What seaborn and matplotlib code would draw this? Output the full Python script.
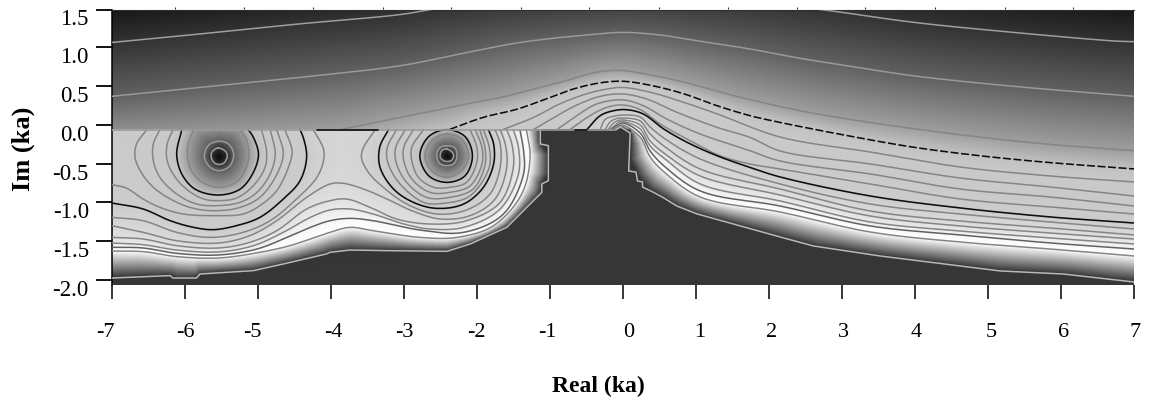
import numpy as np
import matplotlib
matplotlib.use("Agg")
import matplotlib.pyplot as plt
import matplotlib.tri as mtri
from matplotlib.colors import LinearSegmentedColormap
from matplotlib.transforms import ScaledTranslation
import seaborn as sns

# ---- axis content ----
x_ticks = [-7, -6, -5, -4, -3, -2, -1, 0, 1, 2, 3, 4, 5, 6, 7]
y_ticks = [1.5, 1.0, 0.5, 0.0, -0.5, -1.0, -1.5, -2.0]
y_labels = ["1.5", "1.0", "0.5", "0.0", "-0.5", "-1.0", "-1.5", "-2.0"]
top_ticks = [-6.13, -5.19, -4.25, -3.29, -2.36, -1.40, -0.47, 0.50, 1.44, 2.39, 3.32, 4.28, 5.24, 6.17]

# ---- contour levels: (real, imag) in ka ----
# upper half-plane and the lower right
U0a = [(-7, 1.06), (-5.79, 1.17), (-4.42, 1.30), (-3.05, 1.42), (-2.6, 1.49)]
U0b = [(-2.6, 1.49), (-1.5, 1.6), (0, 1.65), (1.5, 1.6), (2.66, 1.49), (3.98, 1.32), (5.12, 1.21), (6.72, 1.08), (7, 1.07)]
U1 = [(-7, .366), (-5.79, .48), (-4.42, .61), (-3.05, .76), (-2.14, .93), (-1.54, 1.04), (-1, 1.11), (-.49, 1.156),
      (-.015, 1.19), (.51, 1.156), (.92, 1.096), (1.74, .976), (2.43, .855), (3.07, .76), (3.98, .63), (5.35, .495), (7, .366)]
U2 = [(-3.85, -.06), (-3.05, .095), (-2.59, .18), (-2.14, .27), (-1.68, .35), (-1.22, .46), (-.77, .57), (-.4, .67),
      (-.04, .70), (.33, .65), (.83, .55), (1.52, .375), (2.43, .18), (3.52, .01), (4.89, -.16), (5.81, -.25), (7, -.335)]
U3 = [(-2.37, -.06), (-1.91, .095), (-1.45, .2), (-1, .35), (-.68, .46), (-.31, .54), (0, .56), (.37, .51), (.83, .40),
      (1.29, .245), (1.74, .117), (2.15, .03), (3.07, -.14), (3.98, -.29), (4.89, -.40), (5.81, -.485), (7, -.57)]
U4 = [(-1.635, -.06), (-1.22, .095), (-.86, .27), (-.49, .40), (-.22, .46), (0, .48), (.37, .42), (.83, .29), (1.29, .14),
      (2.155, -.159), (3.39, -.352), (4.62, -.545), (5.855, -.661), (7, -.738)]
U5 = [(-1.22, -.06), (-.9, .117), (-.63, .254), (-.31, .366), (0, .396), (.33, .33), (.74, .16), (1.29, -.034), (1.74, -.163),
      (2.155, -.339), (3.39, -.506), (4.62, -.687), (5.855, -.803), (7, -.919)]
U6 = [(-.9, -.06), (-.63, .117), (-.36, .267), (0, .32), (.28, .245), (.6, .074), (1.06, -.12), (1.74, -.335),
      (2.155, -.468), (3.39, -.635), (4.62, -.829), (5.855, -.932), (7, -1.048)]
U7 = [(-.72, -.06), (-.45, .117), (-.22, .224), (0, .254), (.24, .194), (.51, .01), (.92, -.206), (1.33, -.40), (1.74, -.506),
      (2.155, -.571), (3.39, -.764), (4.62, -.957), (5.855, -1.06), (7, -1.151)]
U8 = [(-.49, -.06), (-.31, .117), (-.13, .18), (.05, .194), (.28, .138), (.56, -.055), (.88, -.227), (1.29, -.40), (1.74, -.55),
      (2.155, -.674), (3.39, -.919), (4.62, -1.073), (5.855, -1.189), (7, -1.267)]
U9 = [(-.31, -.06), (-.24, .07), (-.12, .11), (0, .125), (.237, .099), (.374, -.03), (.58, -.184), (1.06, -.442),
      (2.155, -.764), (3.39, -1.022), (4.62, -1.151), (5.855, -1.254), (7, -1.344)]
U10 = [(-.24, -.06), (-.17, .04), (-.08, .08), (0, .086), (.237, .048), (.374, -.12), (.58, -.287), (1.06, -.571),
       (2.155, -.829), (3.39, -1.112), (4.62, -1.241), (5.855, -1.331), (7, -1.421)]
U11 = [(-.2, -.06), (-.13, .02), (-.06, .055), (0, .061), (.237, -.004), (.374, -.21), (.58, -.378), (1.06, -.661),
       (2.155, -.906), (3.39, -1.177), (4.62, -1.305), (5.855, -1.396), (7, -1.473)]
U12 = [(-.175, -.06), (-.1, 0), (-.05, .035), (0, .041), (.237, -.055), (.374, -.274), (.58, -.442), (1.06, -.764),
       (2.155, -.983), (3.39, -1.254), (4.62, -1.37), (5.855, -1.46), (7, -1.537)]
U13 = [(-.15, -.06), (-.08, -.01), (0, .022), (.237, -.107), (.374, -.339), (.58, -.545), (1.06, -.854),
       (2.155, -1.048), (3.39, -1.305), (4.62, -1.421), (5.855, -1.524), (7, -1.602)]
U14 = [(-.12, -.06), (-.06, -.02), (0, -.004), (.237, -.159), (.374, -.416), (.58, -.622), (1.06, -.932),
       (2.155, -1.125), (3.39, -1.383), (4.62, -1.512), (5.855, -1.602), (7, -1.692)]
U15 = [(-.09, -.06), (-.03, -.03), (.10, -.107), (.08, -.597), (.18, -.61), (.2, -.725), (.27, -.738), (.27, -.803), (.41, -.867),
       (.54, -.932), (.74, -1.048), (1.02, -1.151), (2.155, -1.447), (2.61, -1.563), (3.525, -1.692), (5.17, -1.885),
       (6.03, -1.924), (7, -2.027)]

# lower half-plane, around the zero near -5.5
A0 = [(-5.54, -.30), (-5.43, -.356), (-5.42, -.42), (-5.47, -.498), (-5.57, -.506), (-5.63, -.442), (-5.63, -.356), (-5.54, -.30)]
A1 = [(-5.54, -.214), (-5.40, -.249), (-5.33, -.378), (-5.38, -.528), (-5.52, -.592), (-5.65, -.549), (-5.73, -.42), (-5.68, -.27), (-5.54, -.214)]
A2 = [(-5.88, -.064), (-5.96, -.292), (-5.93, -.549), (-5.79, -.721), (-5.54, -.807), (-5.27, -.721), (-5.13, -.464), (-5.15, -.206), (-5.24, -.064)]
A3 = [(-6.04, -.064), (-6.11, -.378), (-6.04, -.635), (-5.86, -.829), (-5.54, -.906), (-5.24, -.829), (-5.06, -.614), (-4.99, -.378), (-5.06, -.163), (-5.13, -.064)]
A4 = [(-6.16, -.064), (-6.24, -.249), (-6.24, -.464), (-6.13, -.678), (-5.95, -.85), (-5.74, -.958), (-5.54, -.979), (-5.29, -.945), (-5.06, -.786), (-4.90, -.549), (-4.88, -.335), (-4.95, -.064)]
A5 = [(-6.34, -.064), (-6.43, -.249), (-6.43, -.464), (-6.34, -.678), (-6.11, -.893), (-5.84, -1.022), (-5.54, -1.043), (-5.24, -1.0), (-5.01, -.872), (-4.83, -.635), (-4.76, -.378), (-4.83, -.064)]
A6 = [(-6.52, -.064), (-6.66, -.249), (-6.68, -.42), (-6.61, -.592), (-6.43, -.807), (-6.11, -1.0), (-5.84, -1.086), (-5.54, -1.108), (-5.24, -1.065), (-4.97, -.936), (-4.76, -.678), (-4.65, -.378), (-4.74, -.064)]
A7 = [(-7, -.773), (-6.8, -.816), (-6.57, -.958), (-6.34, -1.065), (-6.02, -1.151), (-5.54, -1.172), (-5.2, -1.151), (-4.97, -1.043), (-4.74, -.85), (-4.58, -.549), (-4.53, -.335), (-4.63, -.064)]
A8 = [(-7, -1.009), (-6.57, -1.086), (-6.2, -1.237), (-5.88, -1.323), (-5.61, -1.353), (-5.29, -1.301), (-4.97, -1.194), (-4.65, -.958), (-4.42, -.721), (-4.33, -.42), (-4.37, -.184), (-4.42, -.064)]
A9 = [(-7, -1.194), (-6.57, -1.237), (-6.11, -1.387), (-5.65, -1.452), (-5.2, -1.387), (-4.83, -1.237), (-4.47, -.958), (-4.19, -.678), (-4.1, -.464), (-4.1, -.313), (-4.24, -.064)]

# lower half-plane, around the zero near -2.4
B0 = [(-2.41, -.313), (-2.32, -.378), (-2.34, -.455), (-2.43, -.472), (-2.5, -.42), (-2.48, -.335), (-2.41, -.313)]
B1 = [(-2.41, -.27), (-2.3, -.30), (-2.27, -.399), (-2.31, -.498), (-2.41, -.528), (-2.51, -.498), (-2.55, -.399), (-2.51, -.30), (-2.41, -.27)]
B2 = [(-2.41, -.12), (-2.21, -.184), (-2.11, -.399), (-2.21, -.592), (-2.41, -.678), (-2.62, -.592), (-2.71, -.399), (-2.62, -.206), (-2.41, -.12)]
B3 = [(-2.41, -.064), (-2.16, -.154), (-2.06, -.399), (-2.16, -.657), (-2.41, -.743), (-2.66, -.657), (-2.78, -.399), (-2.66, -.154), (-2.41, -.064)]
B4 = [(-2.73, -.064), (-2.89, -.292), (-2.89, -.464), (-2.8, -.678), (-2.59, -.807), (-2.37, -.807), (-2.14, -.743), (-2.0, -.485), (-2.0, -.292), (-2.09, -.064)]
B5 = [(-2.87, -.064), (-3.0, -.292), (-3.0, -.464), (-2.89, -.70), (-2.64, -.872), (-2.37, -.872), (-2.09, -.786), (-1.93, -.506), (-1.93, -.292), (-2.02, -.064)]
B6 = [(-2.98, -.064), (-3.11, -.292), (-3.11, -.464), (-2.98, -.721), (-2.69, -.936), (-2.37, -.936), (-2.05, -.829), (-1.89, -.528), (-1.89, -.292), (-1.96, -.064)]
B7 = [(-3.1, -.064), (-3.225, -.292), (-3.225, -.464), (-3.07, -.743), (-2.73, -1.0), (-2.46, -1.013), (-2.09, -.915), (-1.83, -.549), (-1.83, -.292), (-1.91, -.064)]
B8 = [(-3.21, -.064), (-3.33, -.292), (-3.325, -.549), (-3.14, -.829), (-2.87, -1.0), (-2.55, -1.078), (-2.18, -1.022), (-1.91, -.807), (-1.77, -.506), (-1.77, -.249), (-1.84, -.064)]
B9 = [(-3.39, -.064), (-3.55, -.292), (-3.58, -.42), (-3.485, -.614), (-3.28, -.807), (-2.96, -1.022), (-2.55, -1.151), (-2.14, -1.099), (-1.82, -.893), (-1.68, -.549), (-1.68, -.249), (-1.75, -.064)]

# lower half-plane, lines that run across both zeros
C10 = [(-7, -1.301), (-6.57, -1.387), (-6.11, -1.495), (-5.54, -1.525), (-5.11, -1.43), (-4.74, -1.237), (-4.33, -.936), (-4.01, -.764), (-3.83, -.755), (-3.55, -.829), (-3.23, -.958), (-2.87, -1.116), (-2.5, -1.215), (-2.09, -1.172), (-1.75, -.958), (-1.59, -.549), (-1.61, -.249), (-1.68, -.064)]
C11 = [(-7, -1.452), (-6.57, -1.473), (-6.11, -1.559), (-5.54, -1.589), (-5.11, -1.516), (-4.74, -1.366), (-4.33, -1.086), (-4.01, -.979), (-3.78, -.958), (-3.46, -1.065), (-3.1, -1.215), (-2.64, -1.28), (-2.14, -1.237), (-1.68, -1.0), (-1.5, -.549), (-1.52, -.249), (-1.59, -.064)]
C12 = [(-7, -1.525), (-6.57, -1.546), (-6.11, -1.615), (-5.54, -1.64), (-5.06, -1.559), (-4.65, -1.387), (-4.28, -1.194), (-4.01, -1.099), (-3.74, -1.086), (-3.42, -1.151), (-3.0, -1.28), (-2.64, -1.344), (-2.18, -1.323), (-1.68, -1.086), (-1.43, -.635), (-1.43, -.292), (-1.5, -.064)]
C13 = [(-7, -1.58), (-6.57, -1.589), (-6.11, -1.658), (-5.54, -1.679), (-5.01, -1.602), (-4.6, -1.452), (-4.28, -1.323), (-4.01, -1.237), (-3.74, -1.207), (-3.42, -1.237), (-2.78, -1.357), (-2.18, -1.387), (-1.635, -1.151), (-1.36, -.635), (-1.36, -.335), (-1.41, -.064)]
C14 = [(-7, -1.628), (-6.57, -1.636), (-6.11, -1.70), (-5.54, -1.718), (-4.97, -1.645), (-4.56, -1.559), (-4.28, -1.473), (-4.01, -1.387), (-3.74, -1.323), (-3.42, -1.366), (-2.78, -1.452), (-2.27, -1.452), (-1.77, -1.301), (-1.385, -.893), (-1.27, -.42), (-1.32, -.064)]
C15 = [(-7, -1.976), (-6.2, -1.945), (-6.16, -1.976), (-5.84, -1.976), (-5.79, -1.924), (-5.06, -1.881), (-4.65, -1.795), (-4.06, -1.666), (-4.01, -1.645), (-3.74, -1.615), (-3.23, -1.623), (-2.41, -1.632), (-2.09, -1.537), (-1.59, -1.323), (-1.225, -.979), (-1.11, -.872), (-1.11, -.764), (-1.02, -.721), (-1.02, -.27), (-1.13, -.249), (-1.13, -.064)]

# field values that are not on a contour: (real, imag, level)
cut_x = [-7, -5.5, -3.85, -2.37, -1.635, -1.22, -.9, -.72, -.49, -.31, -.24, -.2, -.175, -.15, -.12, -.09]
cut_level = [1.72, 1.85, 2, 3, 4, 5, 6, 7, 8, 9, 10, 11, 12, 13, 14, 15]
top_samples = [(-7, 1.49, -.65), (-3, 1.49, -.1), (7, 1.49, -.63)]
lower_samples = [(-7, -.064, 6.6), (-7, -.45, 6.8), (-3.85, -.064, 9.5), (-3.85, -.45, 9.6),
                 (-5.54, -.41, -1), (-2.41, -.40, -1), (-5.54, -.064, 1.75)]

# black pieces lying on the cut
cut_black_a = [(-4.19, -.064), (-3.35, -.064)]
cut_black_b = [(-.65, -.064), (-.49, -.064)]
cut_grey = [(-7, -.064), (-.09, -.064)]

upper_curves = [(0, U0a), (0, U0b), (1, U1), (2, U2), (3, U3), (4, U4), (5, U5), (6, U6), (7, U7), (8, U8), (9, U9),
                (10, U10), (11, U11), (12, U12), (13, U13), (14, U14), (15, U15)]
lower_curves = [(0, A0), (1, A1), (2, A2), (3, A3), (4, A4), (5, A5), (6, A6), (7, A7), (8, A8), (9, A9),
                (0, B0), (1, B1), (2, B2), (3, B3), (4, B4), (5, B5), (6, B6), (7, B7), (8, B8), (9, B9),
                (10, C10), (11, C11), (12, C12), (13, C13), (14, C14), (15, C15)]

# ---- style ----
sns.set_theme(style="white")
plt.rcParams["font.family"] = ["Liberation Serif", "DejaVu Serif"]
plt.rcParams["text.color"] = "black"
plt.rcParams["axes.labelcolor"] = "black"
plt.rcParams["xtick.labelcolor"] = "black"
plt.rcParams["ytick.labelcolor"] = "black"
plt.rcParams["xtick.color"] = "black"
plt.rcParams["ytick.color"] = "black"

level_knots = [-1, 0, 1, 2, 3, 4, 8, 9, 10, 11, 12, 13, 14, 15]
grey_knots = [.03, .20, .38, .62, .76, .79, .80, .83, .85, .88, .92, .97, 1.0, .21]
cmap = LinearSegmentedColormap.from_list(
    "field", [((l + 1) / 16, (g, g, g)) for l, g in zip(level_knots, grey_knots)], N=1024)
cmap.set_bad(alpha=0)


def smooth(curve, n=12):
    """Centripetal Catmull-Rom rendering of a hand-read contour."""
    c = np.asarray(curve, float)
    closed = np.allclose(c[0], c[-1])
    if closed:
        p = np.vstack([c[-2], c, c[1]])
    else:
        p = np.vstack([2 * c[0] - c[1], c, 2 * c[-1] - c[-2]])
    out = []
    for i in range(1, len(p) - 2):
        p0, p1, p2, p3 = p[i - 1], p[i], p[i + 1], p[i + 2]
        t0 = 0.0
        t1 = t0 + max(np.hypot(*(p1 - p0)), 1e-6) ** .5
        t2 = t1 + max(np.hypot(*(p2 - p1)), 1e-6) ** .5
        t3 = t2 + max(np.hypot(*(p3 - p2)), 1e-6) ** .5
        for t in np.linspace(t1, t2, n, endpoint=False):
            a1 = (t1 - t) / (t1 - t0) * p0 + (t - t0) / (t1 - t0) * p1
            a2 = (t2 - t) / (t2 - t1) * p1 + (t - t1) / (t2 - t1) * p2
            a3 = (t3 - t) / (t3 - t2) * p2 + (t - t2) / (t3 - t2) * p3
            b1 = (t2 - t) / (t2 - t0) * a1 + (t - t0) / (t2 - t0) * a2
            b2 = (t3 - t) / (t3 - t1) * a2 + (t - t1) / (t3 - t1) * a3
            out.append((t2 - t) / (t2 - t1) * b1 + (t - t1) / (t2 - t1) * b2)
    out.append(c[-1])
    return np.array(out)


def shape(level, curve):
    # the outermost contour is stair-stepped in the picture, the rest are smooth
    return np.asarray(curve, float) if level == 15 else smooth(curve)


def refine(c, step=0.04):
    s = np.r_[0, np.cumsum(np.hypot(*np.diff(c, axis=0).T))]
    t = np.linspace(0, s[-1], max(2, int(s[-1] / step)))
    return np.interp(t, s, c[:, 0]), np.interp(t, s, c[:, 1])


def mesh(curves, samples):
    xs, ys, zs = [], [], []
    for lev, c in curves:
        a, b = refine(shape(lev, c))
        xs.append(a); ys.append(b); zs.append(np.full(a.size, float(lev)))
    s = np.asarray(samples, float)
    xs.append(s[:, 0]); ys.append(s[:, 1]); zs.append(s[:, 2])
    x, y, z = map(np.concatenate, (xs, ys, zs))
    _, keep = np.unique(np.round(np.c_[x, y], 3), axis=0, return_index=True)
    return x[keep], y[keep], z[keep]


fig = plt.figure(figsize=(11.51, 4.02), dpi=100)
W, H = 1151, 402
ax = fig.add_axes([111.7 / W, 1 - 285.7 / H, (1134 - 111.7) / W, (285.7 - 10.5) / H])
ax.set_facecolor((.21, .21, .21))
XLIM, YLIM = (-7, 7), (-2.062, 1.485)
gx = np.linspace(*XLIM, 1022)
gy = np.linspace(*YLIM, 275)


def paint(x, y, z, triangles):
    """Shade the contour mesh linearly on a pixel grid, level by level."""
    field = np.full((gy.size, gx.size), np.nan)
    for a, b, c in triangles:
        xa, xb, xc, ya, yb, yc = x[a], x[b], x[c], y[a], y[b], y[c]
        det = (yb - yc) * (xa - xc) + (xc - xb) * (ya - yc)
        if abs(det) < 1e-9:
            continue
        i0, i1 = np.searchsorted(gx, [min(xa, xb, xc), max(xa, xb, xc)])
        j0, j1 = np.searchsorted(gy, [min(ya, yb, yc), max(ya, yb, yc)])
        if i0 >= i1 or j0 >= j1:
            continue
        px, py = np.meshgrid(gx[i0:i1], gy[j0:j1])
        l1 = ((yb - yc) * (px - xc) + (xc - xb) * (py - yc)) / det
        l2 = ((yc - ya) * (px - xc) + (xa - xc) * (py - yc)) / det
        l3 = 1 - l1 - l2
        inside = (l1 >= -1e-9) & (l2 >= -1e-9) & (l3 >= -1e-9)
        sub = field[j0:j1, i0:i1]
        sub[inside] = (l1 * z[a] + l2 * z[b] + l3 * z[c])[inside]
    ax.imshow(np.ma.masked_invalid(field), origin="lower", extent=(*XLIM, *YLIM), aspect="auto", cmap=cmap,
              vmin=-1, vmax=15, interpolation="nearest", zorder=1)


# upper half and lower right
cut_samples = []
for i in range(len(cut_x) - 1):
    for f in np.linspace(0, 1, 8 if cut_x[i + 1] - cut_x[i] > .3 else 3, endpoint=False):
        cut_samples.append((cut_x[i] + f * (cut_x[i + 1] - cut_x[i]), -.06,
                            cut_level[i] + f * (cut_level[i + 1] - cut_level[i])))
mx, my, mz = mesh(upper_curves, top_samples + cut_samples)
tri_main = mtri.Triangulation(mx, my)
cx = mx[tri_main.triangles].mean(axis=1)
cy = my[tri_main.triangles].mean(axis=1)
paint(mx, my, mz, tri_main.triangles[~((cy < -.06) & (cx < .09))])

# lower left
lx, ly, lz = mesh(lower_curves, lower_samples)
paint(lx, ly, lz, mtri.Triangulation(lx, ly).triangles)


def draw(c, grey, lw=1.0, **kw):
    sns.lineplot(x=c[:, 0], y=c[:, 1], sort=False, estimator=None, errorbar=None, ax=ax,
                 color=(grey, grey, grey), lw=lw, legend=False, zorder=3, **kw)


line_grey = {3: .05, 8: .05, 13: .38, 15: .72, 0: .62, 1: .6}
for lev, c in upper_curves + lower_curves:
    g = line_grey.get(lev, .52)
    pts = shape(lev, c)
    if c is U3:
        draw(pts, g, lw=1.15, linestyle=(0, (5, 1.6)))
    elif lev in (3, 8):
        draw(pts, g, lw=1.15)
    else:
        draw(pts, g, lw=1.1)
draw(np.array(cut_grey), .6, lw=1.2)
draw(np.array(cut_black_a), .05, lw=1.2)
draw(np.array(cut_black_b), .05, lw=1.2)

ax.set_xlim(*XLIM)
ax.set_ylim(*YLIM)
ax.grid(False)

# ---- axes furniture ----
for name in ("right", "bottom"):
    ax.spines[name].set_visible(False)
ax.spines["left"].set(color="black", linewidth=1.1)
ax.spines["top"].set(color="#303030", linewidth=.8)
ax.set_xticks(x_ticks)
ax.set_xticklabels([str(v) for v in x_ticks])
ax.set_yticks([v for v in y_ticks if v <= 1.485] + [1.485])
ax.set_yticklabels(y_labels[1:] + y_labels[:1])
ax.tick_params(axis="x", direction="out", bottom=True, length=10, width=1.1, color="black", labelcolor="black",
               pad=16.5, labelsize=16)
ax.tick_params(axis="y", direction="out", left=True, length=11.5, width=1.3, color="black", labelcolor="black",
               pad=5, labelsize=16.5)

x_label_shift = [-6, 1, -5, 3, 1, 0, -2, 5.6, 4, 3, 2, 1, 3, 3, 1]
for lab, dx in zip(ax.get_xticklabels(), x_label_shift):
    lab.set_transform(lab.get_transform() + ScaledTranslation(dx / 100, 0, fig.dpi_scale_trans))
for lab in ax.get_yticklabels():
    lab.set_transform(lab.get_transform() + ScaledTranslation(0, -7 / 100, fig.dpi_scale_trans))

sec = ax.secondary_xaxis("top")
sec.set_xticks(top_ticks)
sec.set_xticklabels([])
sec.tick_params(length=1.5, width=.8, color="#303030")
sec.spines["top"].set_visible(False)

ax.set_xlabel("Real (ka)", fontsize=17, fontweight="bold", color="black")
ax.xaxis.set_label_coords(598 / W, 1 - 386 / H, transform=fig.transFigure)
ax.set_ylabel("Im (ka)", fontsize=19, fontweight="bold", color="black")
ax.yaxis.set_label_coords(23 / W, 1 - 149 / H, transform=fig.transFigure)
ax.xaxis.label.set_verticalalignment("center")
ax.yaxis.label.set_verticalalignment("center")

fig.savefig("out.png", dpi=100)
